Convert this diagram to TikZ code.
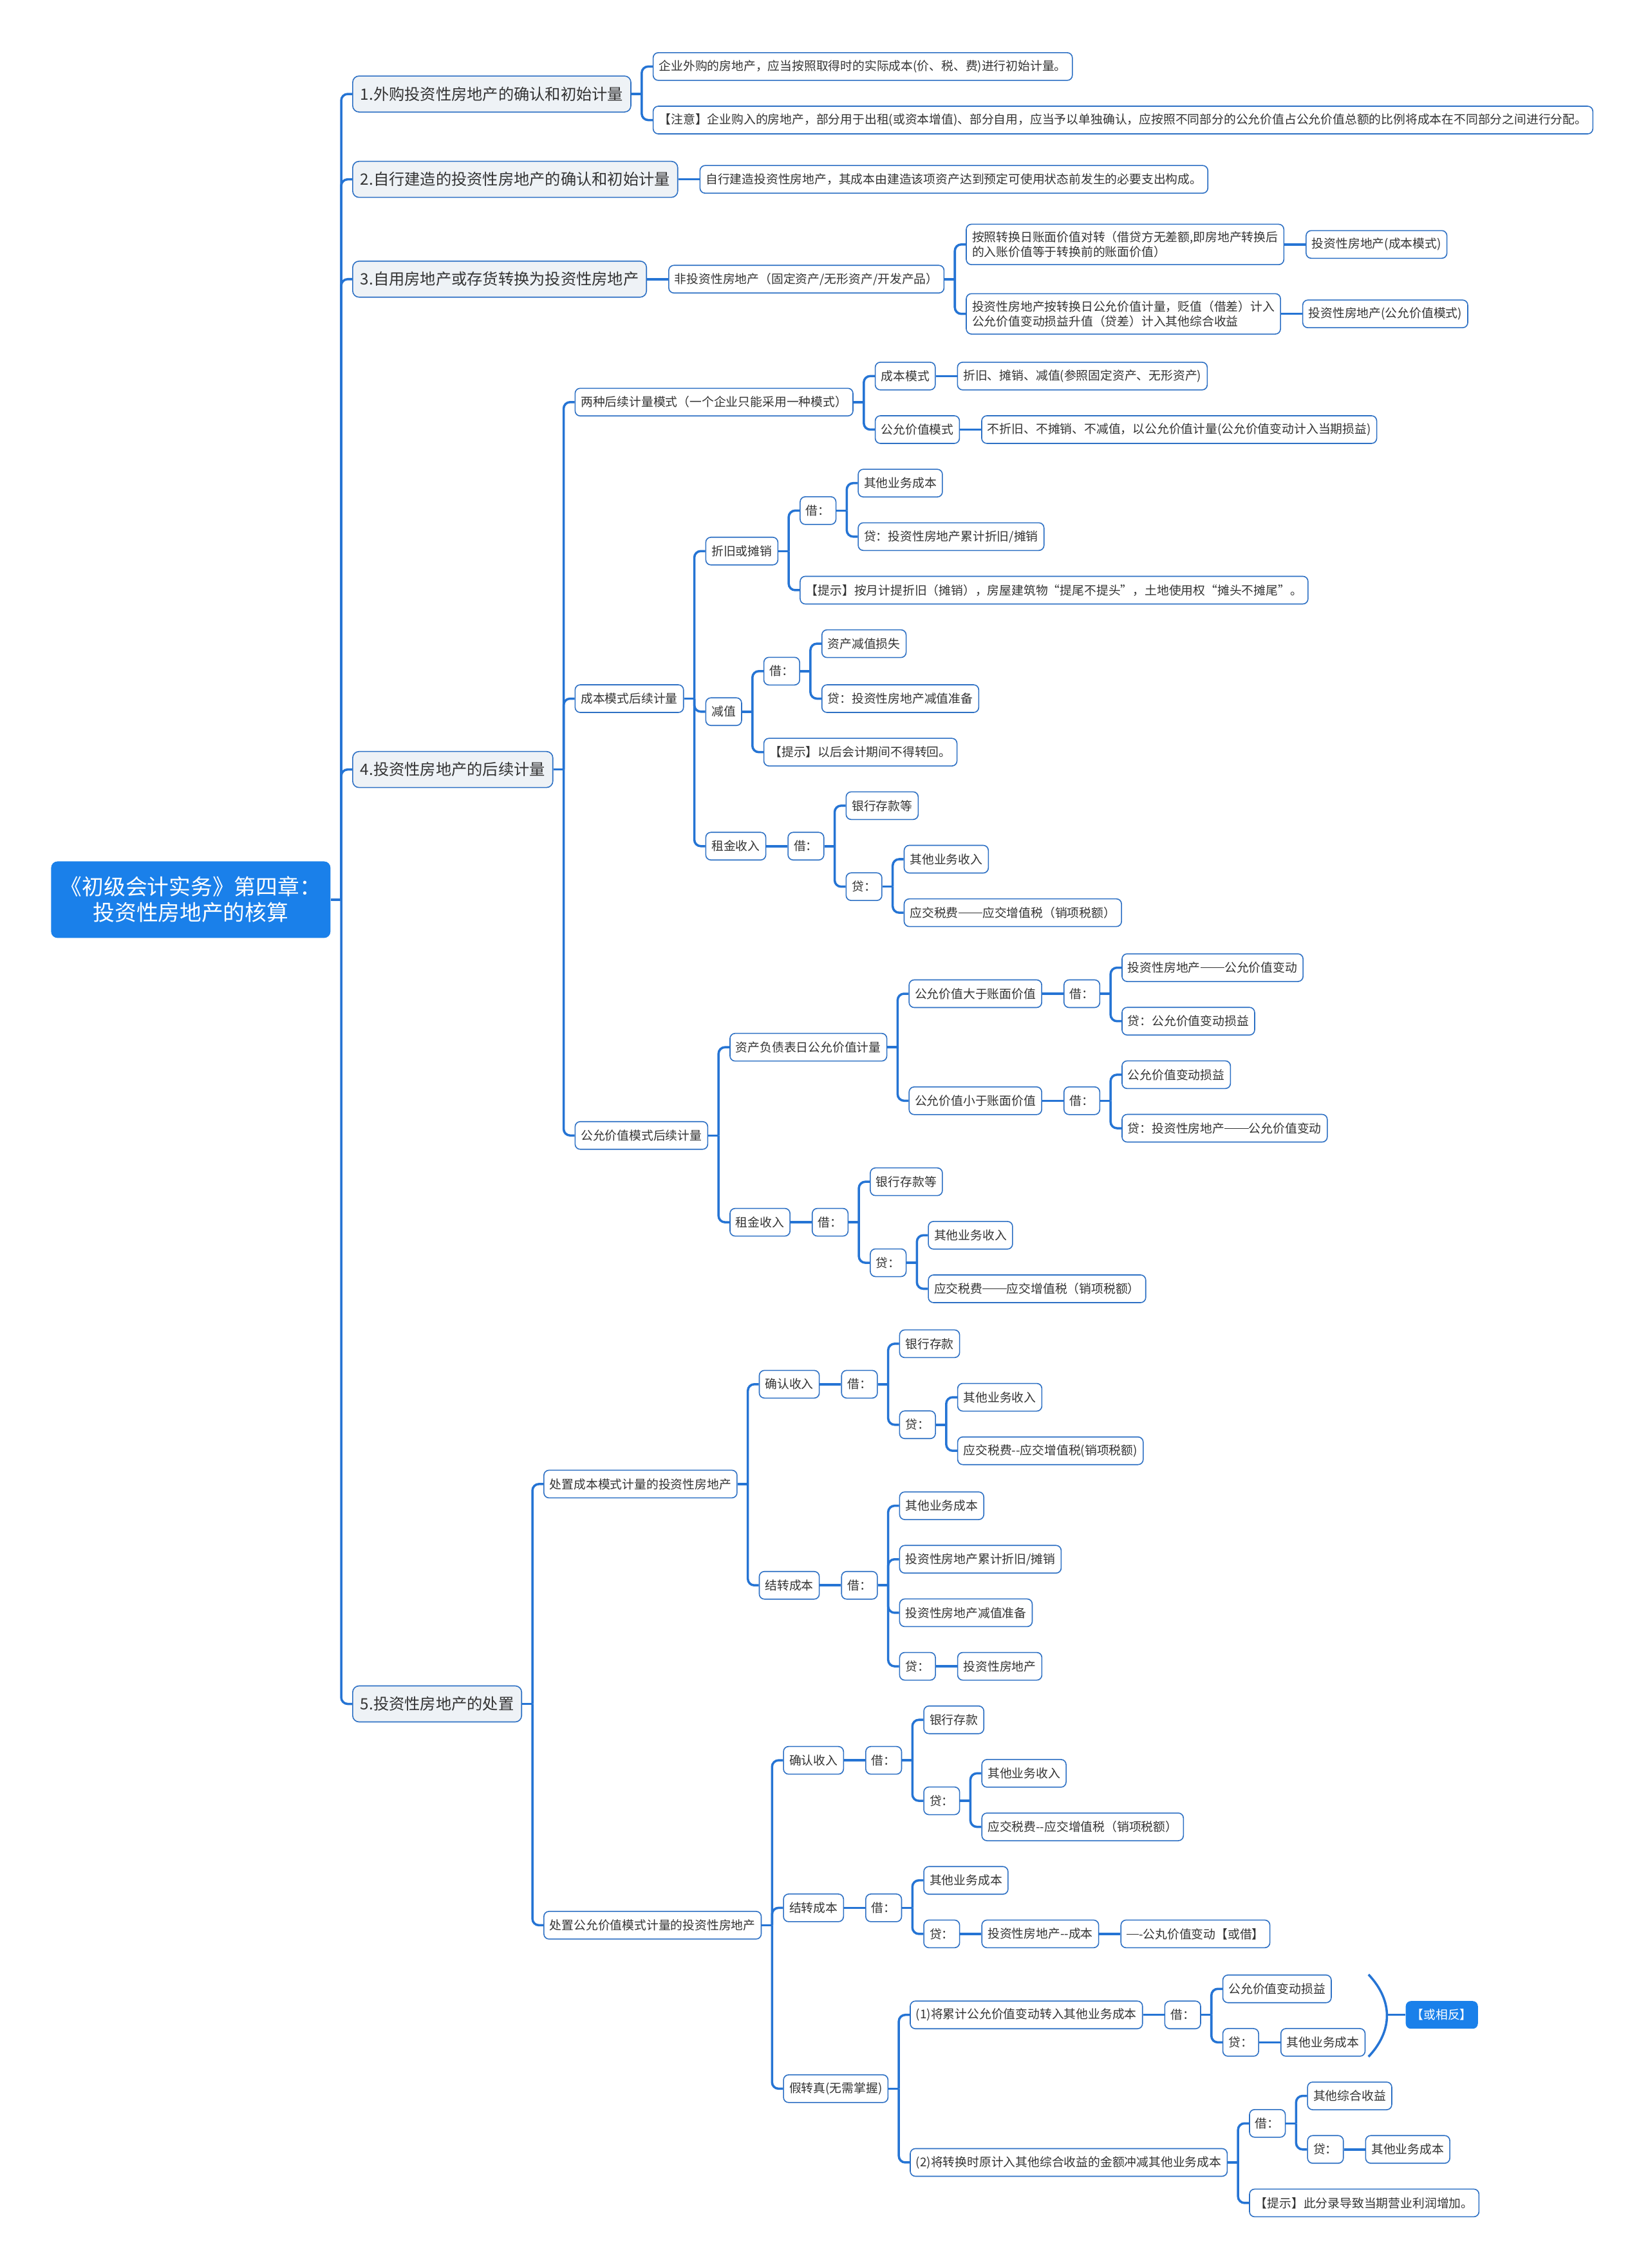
\documentclass[tikz,border=0pt]{standalone}
\usepackage{fontspec}
\setmainfont{Noto Sans CJK SC}
\usepackage{tikz}
\definecolor{xlink}{HTML}{2574D4}
\definecolor{xedge}{HTML}{2D70C4}
\definecolor{xroot}{HTML}{1A80EA}
\definecolor{xbranch}{HTML}{EEF2F6}
\definecolor{xtext}{HTML}{333333}
\newcommand\leaffont{\fontsize{5.35pt}{6.5pt}\selectfont}
\newcommand\branchfont{\fontsize{6.9pt}{8.3pt}\selectfont}
\newcommand\rootfont{\fontsize{9.6pt}{11.4pt}\selectfont}
% full-width dash line
\newcommand\ddash[1]{\rule[0.34em]{#1em}{0.06em}}

\begin{document}
\begin{tikzpicture}[
    x=0.022476cm, y=-0.022476cm,
    box/.style={rectangle, draw=xedge, line width=0.45pt, rounded corners=0.08cm, fill=white, text=xtext, font=\leaffont, inner xsep=0.09cm, inner ysep=0pt, minimum height=0.43cm, anchor=west},
    leaf/.style={box, xshift=0.33cm},
    note/.style={leaf, align=left, inner ysep=0.11cm},
    branch/.style={leaf, fill=xbranch, font=\branchfont, inner xsep=0.12cm, minimum height=0.56cm, rounded corners=0.1cm},
    rootbox/.style={rectangle, rounded corners=0.1cm, fill=xroot, text=white, font=\rootfont, align=center, minimum width=4.34cm, minimum height=1.19cm, anchor=west},
    sumbox/.style={rectangle, rounded corners=0.08cm, fill=xroot, text=white, font=\leaffont, inner xsep=0.09cm, minimum height=0.43cm, anchor=west},
    link/.style={draw=xlink, line width=1pt},
]
\fill[white] (0,0) rectangle (1139,1568);
\useasboundingbox (0,0) rectangle (1139,1568);

% Root and main branches
\node[rootbox] (root) at (35,622) {《初级会计实务》第四章：\\投资性房地产的核算};
\node[branch] (b1) at (root.east |- 0,65) {1.外购投资性房地产的确认和初始计量};
\node[branch] (b2) at (root.east |- 0,124) {2.自行建造的投资性房地产的确认和初始计量};
\node[branch] (b3) at (root.east |- 0,193) {3.自用房地产或存货转换为投资性房地产};
\node[branch] (b4) at (root.east |- 0,532) {4.投资性房地产的后续计量};
\node[branch] (b5) at (root.east |- 0,1178) {5.投资性房地产的处置};

% 1. and 2.
\node[leaf] (b1a) at (b1.east |- 0,46) {企业外购的房地产，应当按照取得时的实际成本(价、税、费)进行初始计量。};
\node[leaf] (b1b) at (b1.east |- 0,83) {【注意】企业购入的房地产，部分用于出租(或资本增值)、部分自用，应当予以单独确认，应按照不同部分的公允价值占公允价值总额的比例将成本在不同部分之间进行分配。};
\node[leaf] (b2a) at (b2.east |- 0,124) {自行建造投资性房地产，其成本由建造该项资产达到预定可使用状态前发生的必要支出构成。};

% 3.
\node[leaf] (b3a) at (b3.east |- 0,193) {非投资性房地产（固定资产/无形资产/开发产品）};
\node[note] (b3a1) at (b3a.east |- 0,169) {按照转换日账面价值对转（借贷方无差额,即房地产转换后\\的入账价值等于转换前的账面价值）};
\node[note] (b3a2) at (b3a.east |- 0,217) {投资性房地产按转换日公允价值计量，贬值（借差）计入\\公允价值变动损益升值（贷差）计入其他综合收益};
\node[leaf] (b3a1x) at (b3a1.east |- 0,169) {投资性房地产(成本模式)};
\node[leaf] (b3a2x) at (b3a2.east |- 0,217) {投资性房地产(公允价值模式)};

% 4. two models
\node[leaf] (m1) at (b4.east |- 0,278) {两种后续计量模式（一个企业只能采用一种模式）};
\node[leaf] (m1a) at (m1.east |- 0,260) {成本模式};
\node[leaf] (m1ax) at (m1a.east |- 0,260) {折旧、摊销、减值(参照固定资产、无形资产)};
\node[leaf] (m1b) at (m1.east |- 0,297) {公允价值模式};
\node[leaf] (m1bx) at (m1b.east |- 0,297) {不折旧、不摊销、不减值，以公允价值计量(公允价值变动计入当期损益)};

% 4. cost model
\node[leaf] (m2) at (b4.east |- 0,483) {成本模式后续计量};
\node[leaf] (zj) at (m2.east |- 0,381) {折旧或摊销};
\node[leaf] (zjd) at (zj.east |- 0,353) {借：};
\node[leaf] (zjd1) at (zjd.east |- 0,334) {其他业务成本};
\node[leaf] (zjd2) at (zjd.east |- 0,371) {贷：投资性房地产累计折旧/摊销};
\node[leaf] (zjt) at (zj.east |- 0,408) {【提示】按月计提折旧（摊销），房屋建筑物“提尾不提头”，土地使用权“摊头不摊尾”。};
\node[leaf] (jz) at (m2.east |- 0,492) {减值};
\node[leaf] (jzd) at (jz.east |- 0,464) {借：};
\node[leaf] (jzd1) at (jzd.east |- 0,445) {资产减值损失};
\node[leaf] (jzd2) at (jzd.east |- 0,483) {贷：投资性房地产减值准备};
\node[leaf] (jzt) at (jz.east |- 0,520) {【提示】以后会计期间不得转回。};
\node[leaf] (zr) at (m2.east |- 0,585) {租金收入};
\node[leaf] (zrd) at (zr.east |- 0,585) {借：};
\node[leaf] (zrd1) at (zrd.east |- 0,557) {银行存款等};
\node[leaf] (zrc) at (zrd.east |- 0,613) {贷：};
\node[leaf] (zrc1) at (zrc.east |- 0,594) {其他业务收入};
\node[leaf] (zrc2) at (zrc.east |- 0,631) {应交税费\ddash{2}应交增值税（销项税额）};

% 4. fair value model
\node[leaf] (m3) at (b4.east |- 0,785) {公允价值模式后续计量};
\node[leaf] (gj) at (m3.east |- 0,724) {资产负债表日公允价值计量};
\node[leaf] (gja) at (gj.east |- 0,687) {公允价值大于账面价值};
\node[leaf] (gjad) at (gja.east |- 0,687) {借：};
\node[leaf] (gjad1) at (gjad.east |- 0,669) {投资性房地产\ddash{2}公允价值变动};
\node[leaf] (gjad2) at (gjad.east |- 0,706) {贷：公允价值变动损益};
\node[leaf] (gjb) at (gj.east |- 0,761) {公允价值小于账面价值};
\node[leaf] (gjbd) at (gjb.east |- 0,761) {借：};
\node[leaf] (gjbd1) at (gjbd.east |- 0,743) {公允价值变动损益};
\node[leaf] (gjbd2) at (gjbd.east |- 0,780) {贷：投资性房地产\ddash{2}公允价值变动};
\node[leaf] (gr) at (m3.east |- 0,845) {租金收入};
\node[leaf] (grd) at (gr.east |- 0,845) {借：};
\node[leaf] (grd1) at (grd.east |- 0,817) {银行存款等};
\node[leaf] (grc) at (grd.east |- 0,873) {贷：};
\node[leaf] (grc1) at (grc.east |- 0,854) {其他业务收入};
\node[leaf] (grc2) at (grc.east |- 0,891) {应交税费\ddash{2}应交增值税（销项税额）};

% 5. disposal, cost model
\node[leaf] (p1) at (b5.east |- 0,1026) {处置成本模式计量的投资性房地产};
\node[leaf] (p1s) at (p1.east |- 0,957) {确认收入};
\node[leaf] (p1sd) at (p1s.east |- 0,957) {借：};
\node[leaf] (p1sd1) at (p1sd.east |- 0,929) {银行存款};
\node[leaf] (p1sc) at (p1sd.east |- 0,985) {贷：};
\node[leaf] (p1sc1) at (p1sc.east |- 0,966) {其他业务收入};
\node[leaf] (p1sc2) at (p1sc.east |- 0,1003) {应交税费-{}-应交增值税(销项税额)};
\node[leaf] (p1k) at (p1.east |- 0,1096) {结转成本};
\node[leaf] (p1kd) at (p1k.east |- 0,1096) {借：};
\node[leaf] (p1kd1) at (p1kd.east |- 0,1041) {其他业务成本};
\node[leaf] (p1kd2) at (p1kd.east |- 0,1078) {投资性房地产累计折旧/摊销};
\node[leaf] (p1kd3) at (p1kd.east |- 0,1115) {投资性房地产减值准备};
\node[leaf] (p1kc) at (p1kd.east |- 0,1152) {贷：};
\node[leaf] (p1kc1) at (p1kc.east |- 0,1152) {投资性房地产};

% 5. disposal, fair value model
\node[leaf] (p2) at (b5.east |- 0,1331) {处置公允价值模式计量的投资性房地产};
\node[leaf] (p2s) at (p2.east |- 0,1217) {确认收入};
\node[leaf] (p2sd) at (p2s.east |- 0,1217) {借：};
\node[leaf] (p2sd1) at (p2sd.east |- 0,1189) {银行存款};
\node[leaf] (p2sc) at (p2sd.east |- 0,1245) {贷：};
\node[leaf] (p2sc1) at (p2sc.east |- 0,1226) {其他业务收入};
\node[leaf] (p2sc2) at (p2sc.east |- 0,1263) {应交税费-{}-应交增值税（销项税额）};
\node[leaf] (p2k) at (p2.east |- 0,1319) {结转成本};
\node[leaf] (p2kd) at (p2k.east |- 0,1319) {借：};
\node[leaf] (p2kd1) at (p2kd.east |- 0,1300) {其他业务成本};
\node[leaf] (p2kc) at (p2kd.east |- 0,1337) {贷：};
\node[leaf] (p2kc1) at (p2kc.east |- 0,1337) {投资性房地产-{}-成本};
\node[leaf] (p2kc2) at (p2kc1.east |- 0,1337) {\ddash{1}-公丸价值变动【或借】};
\node[leaf] (p2j) at (p2.east |- 0,1444) {假转真(无需掌握)};
\node[leaf] (p2ja) at (p2j.east |- 0,1393) {(1)将累计公允价值变动转入其他业务成本};
\node[leaf] (p2jad) at (p2ja.east |- 0,1393) {借：};
\node[leaf] (p2jad1) at (p2jad.east |- 0,1375) {公允价值变动损益};
\node[leaf] (p2jac) at (p2jad.east |- 0,1412) {贷：};
\node[leaf] (p2jac1) at (p2jac.east |- 0,1412) {其他业务成本};
\node[leaf] (p2jb) at (p2j.east |- 0,1495) {(2)将转换时原计入其他综合收益的金额冲减其他业务成本};
\node[leaf] (p2jbd) at (p2jb.east |- 0,1468) {借：};
\node[leaf] (p2jbd1) at (p2jbd.east |- 0,1449) {其他综合收益};
\node[leaf] (p2jbc) at (p2jbd.east |- 0,1486) {贷：};
\node[leaf] (p2jbc1) at (p2jbc.east |- 0,1486) {其他业务成本};
\node[leaf] (p2jbt) at (p2jb.east |- 0,1523) {【提示】此分录导致当期营业利润增加。};

% Summary bracket
\path (p2jac1.east |- p2jad1.north) ++(2,0) coordinate (brt);
\path (p2jac1.south east) ++(2,0) coordinate (brb);
\path (brt) ++(17,18) coordinate (brc1);
\path (brb) ++(17,-18) coordinate (brc2);
\path (brt |- p2jad) ++(13,0) coordinate (brtip);
\draw[link] (brt) .. controls (brc1) and (brc2) .. (brb);
\node[sumbox] (huo) at ([xshift=0.28cm]brtip) {【或相反】};
\draw[link] (brtip) -- (huo.west);

% Connectors with a branching spine
\foreach \pn/\cn in {root/b1, root/b2, root/b3, root/b4, root/b5,
    b1/b1a, b1/b1b, b3a/b3a1, b3a/b3a2,
    b4/m1, b4/m2, b4/m3, m1/m1a, m1/m1b,
    m2/zj, m2/jz, m2/zr, zj/zjd, zj/zjt, zjd/zjd1, zjd/zjd2,
    jz/jzd, jz/jzt, jzd/jzd1, jzd/jzd2,
    zrd/zrd1, zrd/zrc, zrc/zrc1, zrc/zrc2,
    m3/gj, m3/gr, gj/gja, gj/gjb, gjad/gjad1, gjad/gjad2, gjbd/gjbd1, gjbd/gjbd2,
    grd/grd1, grd/grc, grc/grc1, grc/grc2,
    b5/p1, b5/p2, p1/p1s, p1/p1k, p1sd/p1sd1, p1sd/p1sc, p1sc/p1sc1, p1sc/p1sc2,
    p1kd/p1kd1, p1kd/p1kd2, p1kd/p1kd3, p1kd/p1kc,
    p2/p2s, p2/p2k, p2/p2j, p2sd/p2sd1, p2sd/p2sc, p2sc/p2sc1, p2sc/p2sc2,
    p2kd/p2kd1, p2kd/p2kc, p2j/p2ja, p2j/p2jb, p2jad/p2jad1, p2jad/p2jac,
    p2jb/p2jbd, p2jb/p2jbt, p2jbd/p2jbd1, p2jbd/p2jbc}{
  \draw[link] (\pn.east) -- ++(0.16cm,0);
  \draw[link, rounded corners=0.1cm] ([xshift=0.16cm]\pn.east) |- (\cn.west);
}

% Straight connectors (single child)
\foreach \pn/\cn in {b2/b2a, b3/b3a, b3a1/b3a1x, b3a2/b3a2x, m1a/m1ax, m1b/m1bx,
    zr/zrd, gja/gjad, gjb/gjbd, gr/grd, p1s/p1sd, p1k/p1kd, p1kc/p1kc1,
    p2s/p2sd, p2k/p2kd, p2kc/p2kc1, p2kc1/p2kc2, p2ja/p2jad, p2jac/p2jac1, p2jbc/p2jbc1}
  \draw[link] (\pn.east) -- (\cn.west);

\end{tikzpicture}
\end{document}
